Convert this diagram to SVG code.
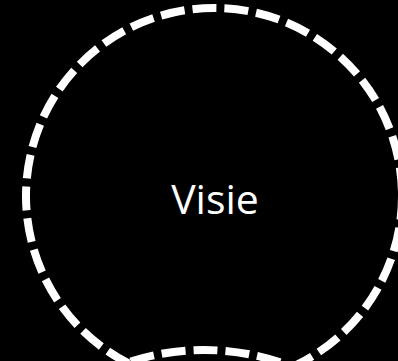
<svg xmlns="http://www.w3.org/2000/svg" width="398" height="361" viewBox="0 0 398 361">
  <style>
    .ring { fill: none; stroke: #ffffff; stroke-width: 8; stroke-dasharray: 24 8; }
    .label { fill: #ffffff; font-family: "Open Sans", "Liberation Sans", sans-serif; font-size: 41px; text-anchor: middle; }
  </style>
  <rect x="0" y="0" width="398" height="361" fill="#000000"/>
  <g id="node-visie">
    <circle class="ring" cx="214" cy="196" r="188"/>
    <text class="label" x="215" y="214">Visie</text>
  </g>
  <g id="node-next">
    <circle class="ring" cx="204" cy="590" r="240"/>
  </g>
</svg>
